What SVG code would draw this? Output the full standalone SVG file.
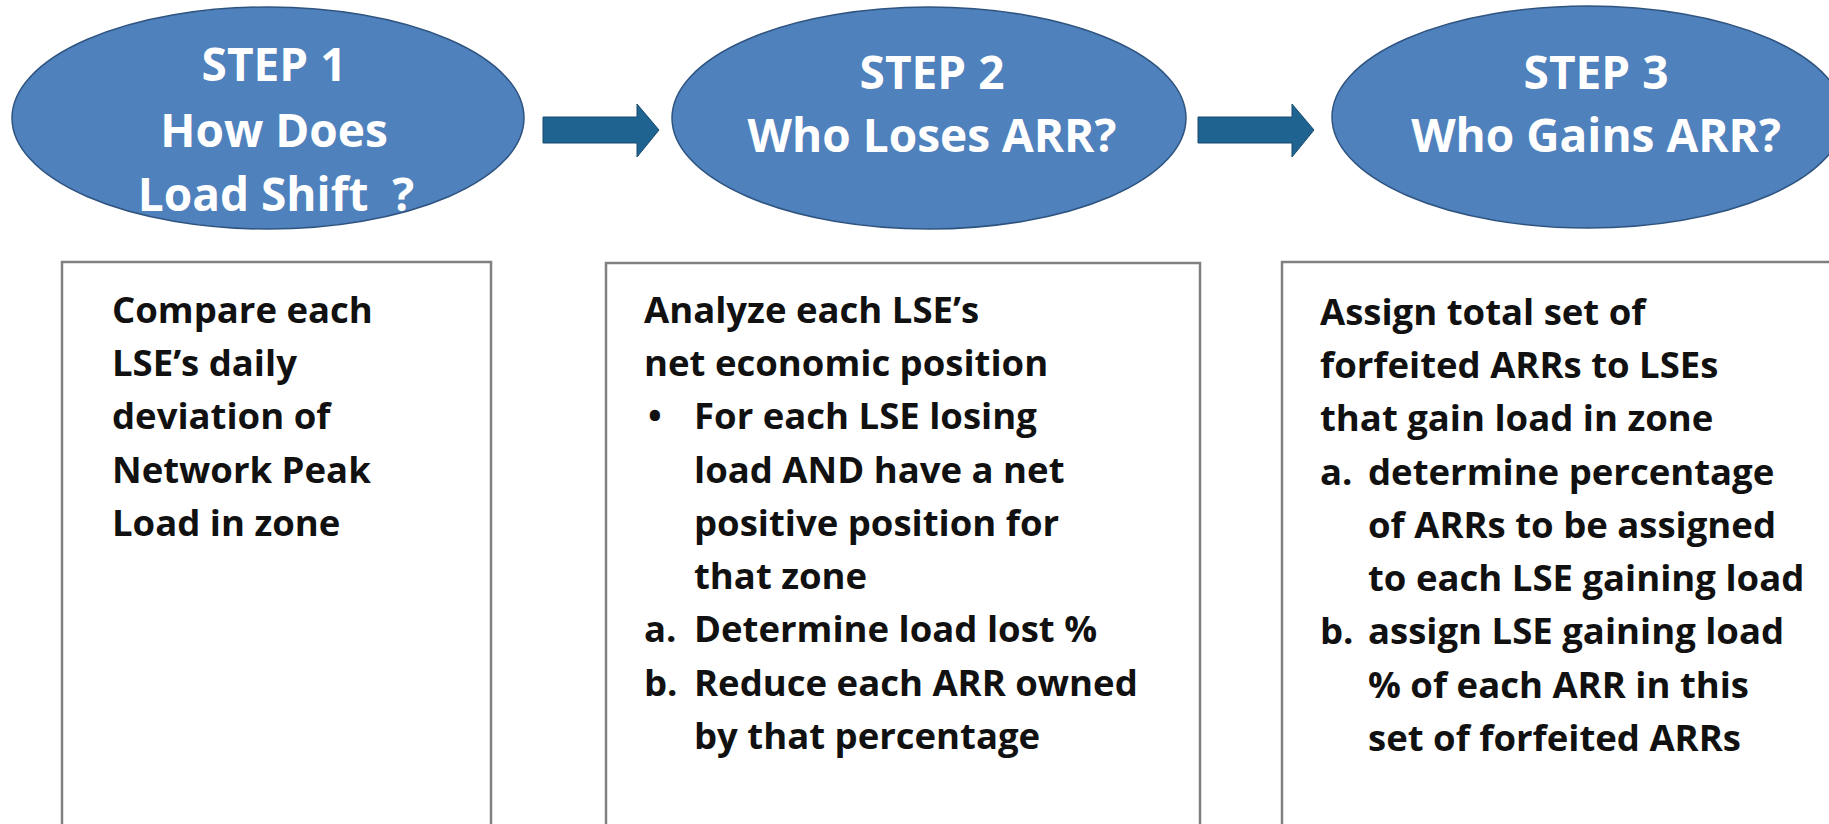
<svg xmlns="http://www.w3.org/2000/svg" width="1829" height="824" viewBox="0 0 1829 824">
<style>
.ell{fill:#4F81BD;stroke:#2F5480;stroke-width:1.5}
.et{font-family:"Open Sans","Liberation Sans",sans-serif;font-weight:700;font-size:46px;fill:#ffffff;text-anchor:middle}
.box{fill:#ffffff;stroke:#808080;stroke-width:2.5}
.bt{font-family:"Open Sans","Liberation Sans",sans-serif;font-weight:700;font-size:36.5px;fill:#111111}
.arr{fill:#1F6391;stroke:#174a6e;stroke-width:1}
</style>
<rect x="0" y="0" width="1829" height="824" fill="#ffffff"/>
<g id="step1">
<ellipse class="ell" cx="268" cy="118" rx="256" ry="111"/>
<text class="et" x="274" y="81">STEP 1</text>
<text class="et" x="274" y="147">How Does</text>
<text class="et" x="276" y="211">Load Shift&#160; ?</text>
</g>
<g id="step2">
<ellipse class="ell" cx="929" cy="118" rx="257" ry="111"/>
<text class="et" x="932" y="89">STEP 2</text>
<text class="et" x="932" y="152">Who Loses ARR?</text>
</g>
<g id="step3">
<ellipse class="ell" cx="1588" cy="117" rx="256" ry="111"/>
<text class="et" x="1596" y="89">STEP 3</text>
<text class="et" x="1596" y="152">Who Gains ARR?</text>
</g>
<g id="connectors">
<polygon class="arr" points="543,117 637,117 637,104 659,130 637,157 637,143 543,143"/>
<polygon class="arr" points="1198,117 1292,117 1292,104 1314,130 1292,157 1292,143 1198,143"/>
</g>
<g id="box1">
<rect class="box" x="62" y="262" width="429" height="600"/>
<text class="bt" x="112" y="323">Compare each</text>
<text class="bt" x="112" y="376">LSE’s daily</text>
<text class="bt" x="112" y="429">deviation of</text>
<text class="bt" x="112" y="483">Network Peak</text>
<text class="bt" x="112" y="536">Load in zone</text>
</g>
<g id="box2">
<rect class="box" x="606" y="263" width="594" height="600"/>
<text class="bt" x="644" y="323">Analyze each LSE’s</text>
<text class="bt" x="644" y="376">net economic position</text>
<text class="bt" x="648" y="429">•</text>
<text class="bt" x="694" y="429">For each LSE losing</text>
<text class="bt" x="694" y="483">load AND have a net</text>
<text class="bt" x="694" y="536">positive position for</text>
<text class="bt" x="694" y="589">that zone</text>
<text class="bt" x="644" y="642">a.</text>
<text class="bt" x="694" y="642">Determine load lost %</text>
<text class="bt" x="644" y="696">b.</text>
<text class="bt" x="694" y="696">Reduce each ARR owned</text>
<text class="bt" x="694" y="749">by that percentage</text>
</g>
<g id="box3">
<rect class="box" x="1282" y="262" width="600" height="600"/>
<text class="bt" x="1320" y="325">Assign total set of</text>
<text class="bt" x="1320" y="378">forfeited ARRs to LSEs</text>
<text class="bt" x="1320" y="431">that gain load in zone</text>
<text class="bt" x="1320" y="485">a.</text>
<text class="bt" x="1368" y="485">determine percentage</text>
<text class="bt" x="1368" y="538">of ARRs to be assigned</text>
<text class="bt" x="1368" y="591">to each LSE gaining load</text>
<text class="bt" x="1320" y="644">b.</text>
<text class="bt" x="1368" y="644">assign LSE gaining load</text>
<text class="bt" x="1368" y="698">% of each ARR in this</text>
<text class="bt" x="1368" y="751">set of forfeited ARRs</text>
</g>
</svg>
